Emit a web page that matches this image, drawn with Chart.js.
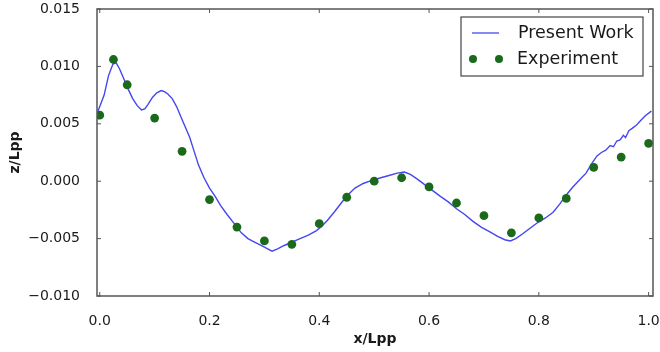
<!DOCTYPE html>
<html>
<head>
<meta charset="utf-8">
<script src="https://cdn.jsdelivr.net/npm/chart.js@4"></script>
<style>
    html, body { margin: 0; padding: 0; background: #fff; }
    #wrap { width: 660px; height: 352px; }
</style>
</head>
<body>
<div id="wrap"><canvas id="chart" width="660" height="352"></canvas></div>
<script>
// Present Work (computed wave profile)
const workX = [-0.004, 0.008, 0.016, 0.024, 0.030, 0.036, 0.044, 0.052, 0.060, 0.068, 0.076, 0.082, 0.088, 0.096,
    0.104, 0.112, 0.118, 0.124, 0.132, 0.140, 0.148, 0.156, 0.164, 0.172, 0.180, 0.190, 0.200, 0.210, 0.220,
    0.232, 0.245, 0.258, 0.270, 0.282, 0.294, 0.306, 0.314, 0.324, 0.336, 0.350, 0.365, 0.380, 0.395, 0.405,
    0.415, 0.427, 0.440, 0.452, 0.465, 0.480, 0.497, 0.512, 0.527, 0.542, 0.555, 0.566, 0.578, 0.592, 0.606,
    0.620, 0.635, 0.650, 0.665, 0.680, 0.695, 0.710, 0.725, 0.738, 0.748, 0.758, 0.770, 0.784, 0.798, 0.812,
    0.826, 0.838, 0.850, 0.862, 0.874, 0.886, 0.896, 0.906, 0.914, 0.922, 0.930, 0.936, 0.942, 0.948, 0.954,
    0.958, 0.964, 0.970, 0.978, 0.986, 0.994, 1.005];
const workZ = [0.0060, 0.0075, 0.0092, 0.0102, 0.0103, 0.0098, 0.0089, 0.0080, 0.0072, 0.0066, 0.0062, 0.0063, 0.0067, 0.0073,
    0.0077, 0.0079, 0.0078, 0.0076, 0.0072, 0.0065, 0.0056, 0.0047, 0.0038, 0.0026, 0.0014, 0.0003, -0.0006, -0.0013, -0.0021,
    -0.0029, -0.0037, -0.0045, -0.0050, -0.0053, -0.0056, -0.0059, -0.0061, -0.0059, -0.0056, -0.0053, -0.0050, -0.0047, -0.0043, -0.0039,
    -0.0034, -0.0027, -0.0019, -0.0012, -0.0006, -0.0002, 0.0001, 0.0003, 0.0005, 0.0007, 0.0008, 0.0006, 0.0002, -0.0003, -0.0008,
    -0.0013, -0.0018, -0.0024, -0.0029, -0.0035, -0.0040, -0.0044, -0.0048, -0.0051, -0.0052, -0.0050, -0.0046, -0.0041, -0.0036, -0.0032,
    -0.0027, -0.0020, -0.0012, -0.0005, 0.0001, 0.0007, 0.0015, 0.0022, 0.0025, 0.0027, 0.0031, 0.0030, 0.0035, 0.0036, 0.0040,
    0.0038, 0.0044, 0.0046, 0.0049, 0.0053, 0.0057, 0.0061];

// Experiment
const expX = [0.0, 0.025, 0.05, 0.1, 0.15, 0.2, 0.25, 0.3, 0.35, 0.4, 0.45, 0.5, 0.55, 0.6, 0.65, 0.7, 0.75, 0.8, 0.85, 0.9, 0.95, 1.0];
const expZ = [0.00575, 0.0106, 0.0084, 0.0055, 0.0026, -0.0016, -0.0040, -0.0052, -0.0055, -0.0037, -0.0014, 0.0000, 0.0003,
    -0.0005, -0.0019, -0.0030, -0.0045, -0.0032, -0.0015, 0.0012, 0.0021, 0.0033];

const xTicks = [0.0, 0.2, 0.4, 0.6, 0.8, 1.0];
const yTicks = [-0.010, -0.005, 0.000, 0.005, 0.010, 0.015];

const seriesNames = ['Present Work', 'Experiment'];
const lineColor = '#4646f0';
const dotColor = '#1b6a1b';
const frameColor = '#555';
const textColor = '#1a1a1a';

const toPoints = (xs, ys) => xs.map((x, i) => ({ x: x, y: ys[i] }));
const fmt = v => (v < 0 ? '\u2212' : '') + Math.abs(v).toFixed(3);

// drop the extra room Chart.js keeps for edge labels, the original lets them hang out
const noEdgePad = s => {
    s.paddingLeft = 0;
    s.paddingRight = 0;
    s.paddingTop = 0;
    s.paddingBottom = 0;
};

// frame, inward ticks and boxed legend, like the matplotlib original
const framePlugin = {
    id: 'frame',
    afterDraw(chart) {
        const ctx = chart.ctx;
        const a = chart.chartArea;
        const xs = chart.scales.x;
        const ys = chart.scales.y;
        ctx.save();
        ctx.strokeStyle = frameColor;
        ctx.lineWidth = 1.5;
        ctx.strokeRect(a.left, a.top, a.right - a.left, a.bottom - a.top);

        ctx.lineWidth = 1;
        xTicks.forEach(v => {
            const px = xs.getPixelForValue(v);
            ctx.beginPath();
            ctx.moveTo(px, a.bottom); ctx.lineTo(px, a.bottom - 4);
            ctx.moveTo(px, a.top); ctx.lineTo(px, a.top + 4);
            ctx.stroke();
        });
        yTicks.forEach(v => {
            const py = ys.getPixelForValue(v);
            ctx.beginPath();
            ctx.moveTo(a.left, py); ctx.lineTo(a.left + 4, py);
            ctx.moveTo(a.right, py); ctx.lineTo(a.right - 4, py);
            ctx.stroke();
        });

        // legend
        const bx = a.right - 192, by = a.top + 8, bw = 182, bh = 59;
        ctx.fillStyle = '#fff';
        ctx.fillRect(bx, by, bw, bh);
        ctx.strokeStyle = '#444';
        ctx.lineWidth = 1.2;
        ctx.strokeRect(bx, by, bw, bh);

        const names = chart.data.datasets.map(d => d.label);
        ctx.font = '17.5px "DejaVu Sans"';
        ctx.fillStyle = textColor;
        ctx.textBaseline = 'middle';
        ctx.textAlign = 'left';

        const y1 = by + 16, y2 = by + 42;
        ctx.strokeStyle = lineColor;
        ctx.lineWidth = 1.3;
        ctx.beginPath();
        ctx.moveTo(bx + 11, y1); ctx.lineTo(bx + 38, y1);
        ctx.stroke();
        ctx.fillText(names[0], bx + 57, y1);

        ctx.fillStyle = dotColor;
        [bx + 12, bx + 38].forEach(cx => {
            ctx.beginPath();
            ctx.arc(cx, y2, 4, 0, Math.PI * 2);
            ctx.fill();
        });
        ctx.fillStyle = textColor;
        ctx.fillText(names[1], bx + 56, y2);
        ctx.restore();
    }
};

new Chart(document.getElementById('chart').getContext('2d'), {
    type: 'scatter',
    data: {
        datasets: [{
            label: seriesNames[0],
            data: toPoints(workX, workZ),
            showLine: true,
            borderColor: lineColor,
            borderWidth: 1.4,
            pointRadius: 0,
            tension: 0,
            order: 2
        }, {
            label: seriesNames[1],
            data: toPoints(expX, expZ),
            backgroundColor: dotColor,
            borderColor: dotColor,
            pointRadius: 4.4,
            borderWidth: 0,
            order: 1
        }]
    },
    options: {
        responsive: false,
        animation: false,
        devicePixelRatio: 1,
        layout: { padding: { top: 9, right: 7, left: 0, bottom: 0 } },
        plugins: {
            legend: { display: false },
            tooltip: { enabled: false }
        },
        scales: {
            x: {
                type: 'linear',
                min: -0.005,
                max: 1.008,
                afterBuildTicks: s => { s.ticks = xTicks.map(v => ({ value: v })); },
                afterFit: s => { s.height = 56; noEdgePad(s); },
                grid: { display: false },
                border: { display: false },
                ticks: {
                    color: textColor,
                    font: { family: 'DejaVu Sans', size: 14 },
                    padding: 9,
                    maxRotation: 0,
                    callback: v => v.toFixed(1)
                },
                title: {
                    display: true,
                    text: 'x/Lpp',
                    color: textColor,
                    font: { family: 'DejaVu Sans', size: 14, weight: 'bold' },
                    padding: { top: 0, bottom: 4 }
                }
            },
            y: {
                type: 'linear',
                min: -0.010,
                max: 0.015,
                afterBuildTicks: s => { s.ticks = yTicks.map(v => ({ value: v })); },
                afterFit: s => { s.width = 97; noEdgePad(s); },
                grid: { display: false },
                border: { display: false },
                ticks: {
                    color: textColor,
                    font: { family: 'DejaVu Sans', size: 14 },
                    padding: 9,
                    callback: v => fmt(v)
                },
                title: {
                    display: true,
                    text: 'z/Lpp',
                    color: textColor,
                    font: { family: 'DejaVu Sans', size: 14, weight: 'bold' },
                    padding: { top: 7, bottom: 0 }
                }
            }
        }
    },
    plugins: [framePlugin]
});
</script>
</body>
</html>
